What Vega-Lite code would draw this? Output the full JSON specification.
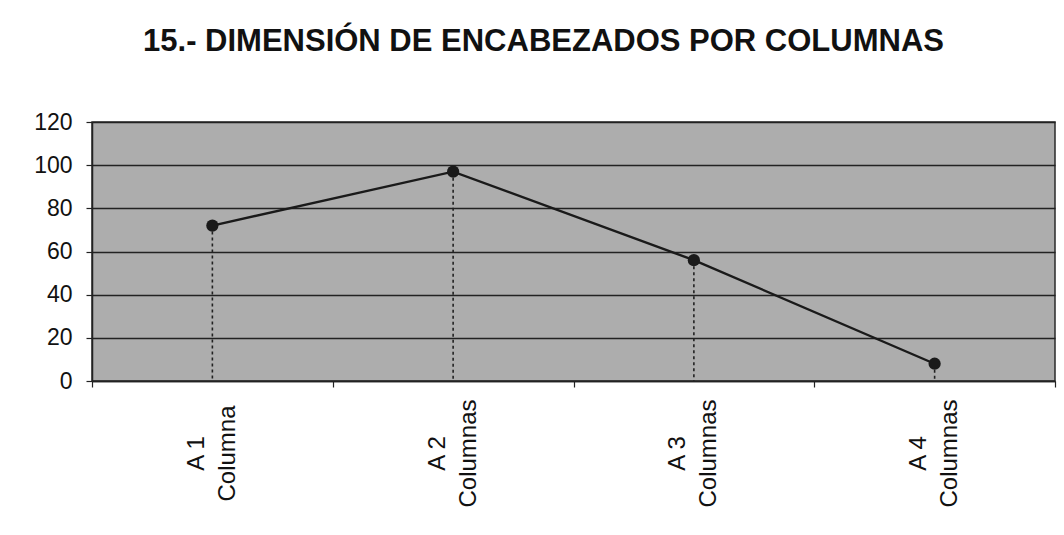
{
  "$schema": "https://vega.github.io/schema/vega-lite/v6.json",
  "autosize": "none",
  "width": 963,
  "height": 259,
  "padding": {"left": 92, "top": 122, "right": 9, "bottom": 154},
  "background": "white",
  "title": {
    "text": "15.- DIMENSIÓN DE ENCABEZADOS POR COLUMNAS",
    "font": "Liberation Sans",
    "fontSize": 31,
    "fontWeight": "bold",
    "color": "#111111",
    "anchor": "middle",
    "dx": -30,
    "offset": 53
  },
  "config": {
    "view": {"fill": "#adadad", "stroke": "#2a2a2a", "strokeWidth": 1.5},
    "style": {"guide-label": {"lineBreak": "|"}},
    "axis": {
      "labelFont": "Liberation Sans",
      "labelColor": "#111111",
      "domainColor": "#222222",
      "tickColor": "#222222",
      "domainWidth": 1.5,
      "tickWidth": 1.2
    }
  },
  "data": {
    "values": [
      {"columna": "A 1|Columna", "valor": 72},
      {"columna": "A 2|Columnas", "valor": 97},
      {"columna": "A 3|Columnas", "valor": 56},
      {"columna": "A 4|Columnas", "valor": 8}
    ]
  },
  "encoding": {
    "x": {
      "field": "columna",
      "type": "nominal",
      "sort": null,
      "scale": {"type": "band", "paddingInner": 0, "paddingOuter": 0},
      "axis": {
        "title": null,
        "labelAngle": -90,
        "labelAlign": "center",
        "labelBaseline": "middle",
        "labelFontSize": 24,
        "labelLineHeight": 31,
        "labelPadding": 66,
        "labelOffset": -16,
        "tickSize": 6,
        "tickBand": "extent",
        "grid": false
      }
    },
    "y": {
      "field": "valor",
      "type": "quantitative",
      "scale": {"domain": [0, 120], "nice": false},
      "axis": {
        "title": null,
        "values": [0, 20, 40, 60, 80, 100, 120],
        "labelFontSize": 23,
        "labelPadding": 14,
        "tickSize": 6,
        "grid": true,
        "gridColor": "#222222",
        "gridWidth": 1.3,
        "gridOpacity": 1
      }
    }
  },
  "layer": [
    {
      "mark": {"type": "rule", "strokeDash": [3, 3], "color": "#222222", "strokeWidth": 1.6},
      "encoding": {
        "y2": {"datum": 0}
      }
    },
    {
      "mark": {"type": "line", "color": "#1a1a1a", "strokeWidth": 2.4},
      "encoding": {}
    },
    {
      "mark": {"type": "point", "filled": true, "color": "#1a1a1a", "size": 150, "opacity": 1},
      "encoding": {}
    }
  ]
}
